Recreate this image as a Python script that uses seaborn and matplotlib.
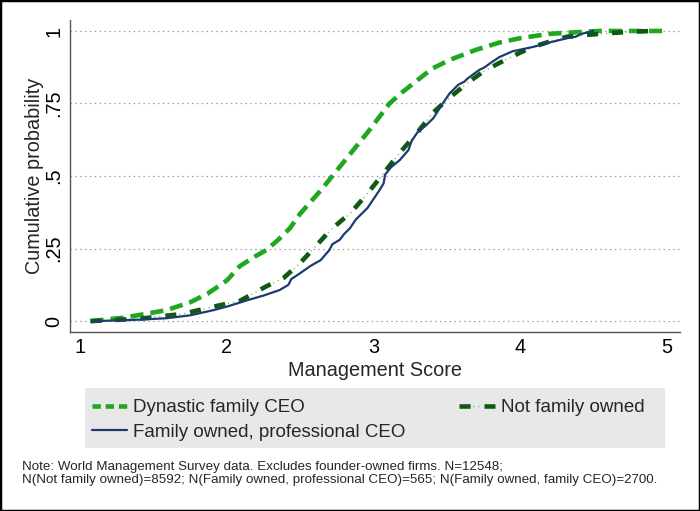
import matplotlib
matplotlib.use("Agg")
import matplotlib.pyplot as plt
from matplotlib.lines import Line2D
from matplotlib.patches import Rectangle
import seaborn as sns
import pandas as pd

# ==========================================
# data
# ==========================================
dyn_x = [1.07, 1.30, 1.59, 1.75, 1.87, 2.00, 2.09, 2.20, 2.27, 2.35, 2.43, 2.50,
         2.64, 2.72, 2.84, 2.96, 3.05, 3.11, 3.20, 3.30, 3.40, 3.52, 3.70, 3.86,
         4.00, 4.20, 4.40, 4.54, 4.75, 4.97]
dyn_y = [0.0, 0.012, 0.038, 0.065, 0.095, 0.14, 0.19, 0.225, 0.245, 0.28, 0.32, 0.37,
         0.45, 0.50, 0.575, 0.65, 0.71, 0.75, 0.79, 0.83, 0.87, 0.90, 0.935, 0.96,
         0.975, 0.99, 0.996, 1.0, 1.0, 1.0]

nfo_x = [1.07, 1.40, 1.70, 1.91, 2.09, 2.27, 2.39, 2.50, 2.61, 2.70, 2.79, 2.84,
         2.96, 3.07, 3.18, 3.30, 3.41, 3.52, 3.64, 3.75, 3.86, 4.00, 4.09, 4.20,
         4.32, 4.54, 4.75, 4.91]
nfo_y = [0.0, 0.008, 0.025, 0.05, 0.07, 0.12, 0.15, 0.20, 0.26, 0.31, 0.35, 0.37,
         0.44, 0.51, 0.58, 0.65, 0.72, 0.77, 0.82, 0.86, 0.89, 0.925, 0.945, 0.963,
         0.98, 0.99, 0.997, 1.0]

fop_x = [1.10, 1.40, 1.59, 1.75, 1.91, 2.00, 2.14, 2.25, 2.36, 2.42, 2.44, 2.50,
         2.57, 2.64, 2.70, 2.72, 2.77, 2.80, 2.84, 2.88, 2.90, 2.96, 3.00, 3.04,
         3.07, 3.08, 3.12, 3.18, 3.24, 3.26, 3.30, 3.36, 3.41, 3.46, 3.52, 3.58,
         3.62, 3.64, 3.72, 3.76, 3.80, 3.86, 3.95, 4.09, 4.20, 4.32, 4.38, 4.42, 4.50]
fop_y = [0.0, 0.005, 0.01, 0.02, 0.038, 0.05, 0.072, 0.088, 0.107, 0.125, 0.145, 0.165,
         0.19, 0.21, 0.245, 0.265, 0.28, 0.30, 0.32, 0.35, 0.36, 0.39, 0.42, 0.45,
         0.475, 0.505, 0.53, 0.555, 0.59, 0.62, 0.65, 0.675, 0.70, 0.74, 0.785, 0.815,
         0.825, 0.835, 0.865, 0.875, 0.89, 0.91, 0.93, 0.945, 0.96, 0.975, 0.98, 0.99, 1.0]

x_ticks = [1, 2, 3, 4, 5]
y_ticks = [0, 0.25, 0.5, 0.75, 1]
y_tick_labels = ["0", ".25", ".5", ".75", "1"]

labels = ["Dynastic family CEO", "Family owned, professional CEO", "Not family owned"]
note = ("Note: World Management Survey data. Excludes founder-owned firms. N=12548;\n"
        "N(Not family owned)=8592; N(Family owned, professional CEO)=565; "
        "N(Family owned, family CEO)=2700.")

# ==========================================
# style
# ==========================================
sns.set_theme(style="white")
plt.rcParams["font.family"] = ["Liberation Sans", "DejaVu Sans"]
plt.rcParams["lines.scale_dashes"] = False

c_dyn = "#1fa81f"
c_nfo = "#0f5a12"
c_nfo_dot = "#6aa86a"
c_fop = "#1c3b6e"

dyn_ls = (0, (9.5, 5))
nfo_ls = (0, (8, 10))
nfo_dot_ls = (8, (0.8, 2.9, 0.8, 13.5))

AX_FS = 14.3

fig = plt.figure(figsize=(7, 5.11), dpi=100)
ax = fig.add_axes([0.1, 0.35, 0.871, 0.611])

df_dyn = pd.DataFrame({"x": dyn_x, "y": dyn_y})
df_nfo = pd.DataFrame({"x": nfo_x, "y": nfo_y})
df_fop = pd.DataFrame({"x": fop_x, "y": fop_y})

sns.lineplot(data=df_dyn, x="x", y="y", ax=ax, color=c_dyn, lw=3.3,
             linestyle=dyn_ls, sort=False, estimator=None)
sns.lineplot(data=df_nfo, x="x", y="y", ax=ax, color=c_nfo_dot, lw=0.9,
             linestyle=nfo_dot_ls, sort=False, estimator=None)
sns.lineplot(data=df_nfo, x="x", y="y", ax=ax, color=c_nfo, lw=3.3,
             linestyle=nfo_ls, sort=False, estimator=None)
sns.lineplot(data=df_fop, x="x", y="y", ax=ax, color=c_fop, lw=1.6,
             sort=False, estimator=None)

ax.set_xlim(0.93, 5.09)
ax.set_ylim(-0.038, 1.038)
ax.set_xticks(x_ticks)
ax.set_xticklabels([str(t) for t in x_ticks], fontsize=AX_FS)
ax.set_yticks(y_ticks)
ax.set_yticklabels(y_tick_labels, fontsize=AX_FS, rotation=90, va="center")
ax.tick_params(axis="both", length=0, colors="black")
ax.tick_params(axis="y", pad=5)
ax.tick_params(axis="x", pad=4)
ax.set_xlabel("Management Score", fontsize=AX_FS, labelpad=3)
ax.set_ylabel("Cumulative probability", fontsize=AX_FS, labelpad=0)

for y in y_ticks:
    ax.axhline(y, color="#999999", lw=0.9, ls=(0, (1, 2.5)), zorder=0)

for side in ["top", "right"]:
    ax.spines[side].set_visible(False)
for side in ["left", "bottom"]:
    ax.spines[side].set_color("#555555")
    ax.spines[side].set_linewidth(1.0)

# legend on gray box
fig.patches.append(Rectangle((85 / 700, 1 - 448 / 511), 580 / 700, 60 / 511,
                             transform=fig.transFigure, facecolor="#e8e8e8",
                             edgecolor="none", zorder=0))
h_dyn = Line2D([], [], color=c_dyn, lw=3.3, linestyle=(0, (6, 3.5)))
h_fop = Line2D([], [], color=c_fop, lw=1.6)
h_nfo_a = Line2D([], [], color=c_nfo, lw=3.3, linestyle=(0, (8, 10)))
h_nfo_b = Line2D([], [], color=c_nfo_dot, lw=0.9, linestyle=(8, (0.8, 2.9, 0.8, 13.5)))
fig.legend([h_dyn, h_fop, (h_nfo_a, h_nfo_b)], labels,
           ncol=2, mode="expand", frameon=False, fontsize=13.5,
           bbox_to_anchor=(88 / 700, 1 - 452 / 511, 560 / 700, 64 / 511),
           loc="center", handlelength=1.9, handletextpad=0.3,
           labelspacing=0.4, borderpad=0.2, borderaxespad=0)

fig.text(22 / 700, 1 - 461 / 511, note, fontsize=9.6, va="top", ha="left",
         linespacing=1.15)

# figure border
fig.patches.append(Rectangle((0, 0), 1, 1, transform=fig.transFigure,
                             facecolor="none", edgecolor="black", lw=2.5))

fig.savefig("out.png", dpi=100)
